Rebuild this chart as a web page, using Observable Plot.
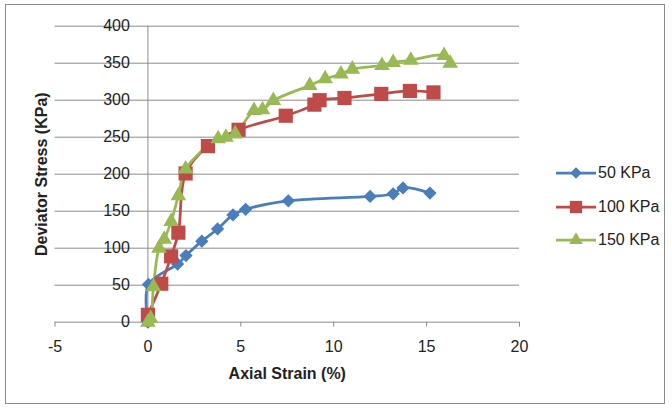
<!DOCTYPE html>
<html>
<head>
<meta charset="utf-8">
<script src="https://cdn.jsdelivr.net/npm/d3@7"></script>
<script src="https://cdn.jsdelivr.net/npm/@observablehq/plot@0.6"></script>
<style>
  html, body { margin: 0; padding: 0; background: #fff; }
  #wrap { position: relative; width: 672px; height: 409px; font-family: "Liberation Sans", Arial, sans-serif; color: #222; }
  #border { position: absolute; left: 5px; top: 4px; width: 660px; height: 400px; border: 1.5px solid #8a8a8a; box-sizing: border-box; pointer-events: none; }
  #legend { position: absolute; left: 556px; top: 160px; font-size: 16px; }
  .row { position: absolute; left: 0; height: 24px; display: flex; align-items: center; white-space: nowrap; }
  .row svg { display: block; margin-right: 2px; }
</style>
</head>
<body>
<div id="wrap"><div id="chart"></div><div id="border"></div><div id="legend"></div></div>
<script>
// Series data (Axial Strain %, Deviator Stress KPa)
const seriesNames = ["50 KPa", "100 KPa", "150 KPa"];
const colors = ["#4A7EBB", "#BE4B48", "#98B954"];
const symbols = ["diamond2", "square", "triangle"];
const markerR = [6, 8, 5.8];

const strain50 = [0, 0.03, 1.6, 2.05, 2.9, 3.75, 4.58, 5.26, 7.56, 11.96, 13.2, 13.73, 15.18];
const stress50 = [0, 51, 78.5, 90, 109.5, 126, 145, 152.5, 164, 170, 173.5, 181.5, 174.5];

const strain100 = [0, 0.72, 1.25, 1.64, 2.03, 3.23, 4.88, 7.42, 8.96, 9.24, 10.58, 12.56, 14.1, 15.37];
const stress100 = [10, 52, 89, 121, 201, 238, 260, 279, 294, 300, 303, 308.5, 312.5, 310.5];

const strain150 = [0, 0.15, 0.3, 0.6, 0.88, 1.25, 1.64, 2.03, 3.78, 4.2, 4.7, 5.71, 6.17, 6.75, 8.71, 9.54, 10.39, 11.0, 12.6, 13.2, 14.15, 15.94, 16.27];
const stress150 = [0, 5, 48, 100, 112, 136, 171, 207, 248, 250, 254.5, 286, 287, 299.5, 320, 329, 335.5, 342, 347, 351, 354, 360.5, 350];

const xTicks = [-5, 0, 5, 10, 15, 20];
const yTicks = [0, 50, 100, 150, 200, 250, 300, 350, 400];
const xTitle = "Axial Strain (%)";
const yTitle = "Deviator Stress (KPa)";

const strains = [strain50, strain100, strain150];
const stresses = [stress50, stress100, stress150];
const rows = [];
seriesNames.forEach((s, i) => strains[i].forEach((x, j) => rows.push({series: s, x, y: stresses[i][j]})));

const grid = "#8c8c8c";
const marks = [
  Plot.ruleY(yTicks, {stroke: grid, strokeWidth: 1}),
  Plot.ruleX([0], {y1: 0, y2: 400, stroke: grid, strokeWidth: 1}),
  Plot.axisX({ticks: xTicks, tickSize: 5, tickPadding: 13, tickFormat: d => String(d), stroke: grid, fill: "#222", fontSize: 16, label: null}),
  Plot.text(yTicks, {x: 0, y: d => d, dx: -18, textAnchor: "end", fill: "#222", fontSize: 16}),
  Plot.text([yTitle], {frameAnchor: "left", textAnchor: "middle", rotate: -90, dx: -13, fontWeight: "bold", fontSize: 16, fill: "#222"}),
  Plot.text([xTitle], {frameAnchor: "bottom", textAnchor: "middle", dy: 57, fontWeight: "bold", fontSize: 16, fill: "#222"})
];
seriesNames.forEach((s, i) => {
  const d = rows.filter(r => r.series === s);
  marks.push(Plot.line(d, {x: "x", y: "y", stroke: colors[i], strokeWidth: 2.75, curve: "catmull-rom"}));
});
seriesNames.forEach((s, i) => {
  const d = rows.filter(r => r.series === s);
  marks.push(Plot.dot(d, {x: "x", y: "y", symbol: symbols[i], r: markerR[i], fill: colors[i], stroke: "none"}));
});

const chart = Plot.plot({
  width: 672,
  height: 409,
  marginLeft: 54.5,
  marginRight: 153,
  marginTop: 25.7,
  marginBottom: 87.3,
  style: {fontFamily: "'Liberation Sans', Arial, sans-serif", fontSize: "16px", background: "transparent", overflow: "visible"},
  x: {domain: [-5, 20], axis: null},
  y: {domain: [0, 400], axis: null},
  marks
});
document.getElementById("chart").appendChild(chart);

// Legend
const legend = document.getElementById("legend");
const legendY = [172.7, 206.7, 240];
seriesNames.forEach((s, i) => {
  const row = document.createElement("div");
  row.className = "row";
  row.style.top = (legendY[i] - 160 - 12) + "px";
  const sym = d3.symbol(d3["symbol" + (symbols[i] === "diamond2" ? "Diamond2" : symbols[i] === "square" ? "Square" : "Triangle")], Math.PI * markerR[i] * markerR[i] * 0.75)();
  row.innerHTML = `<svg width="40" height="20"><line x1="0" y1="10" x2="40" y2="10" stroke="${colors[i]}" stroke-width="2.75"/><path d="${sym}" transform="translate(20,10)" fill="${colors[i]}"/></svg><span>${s}</span>`;
  legend.appendChild(row);
});
</script>
</body>
</html>
